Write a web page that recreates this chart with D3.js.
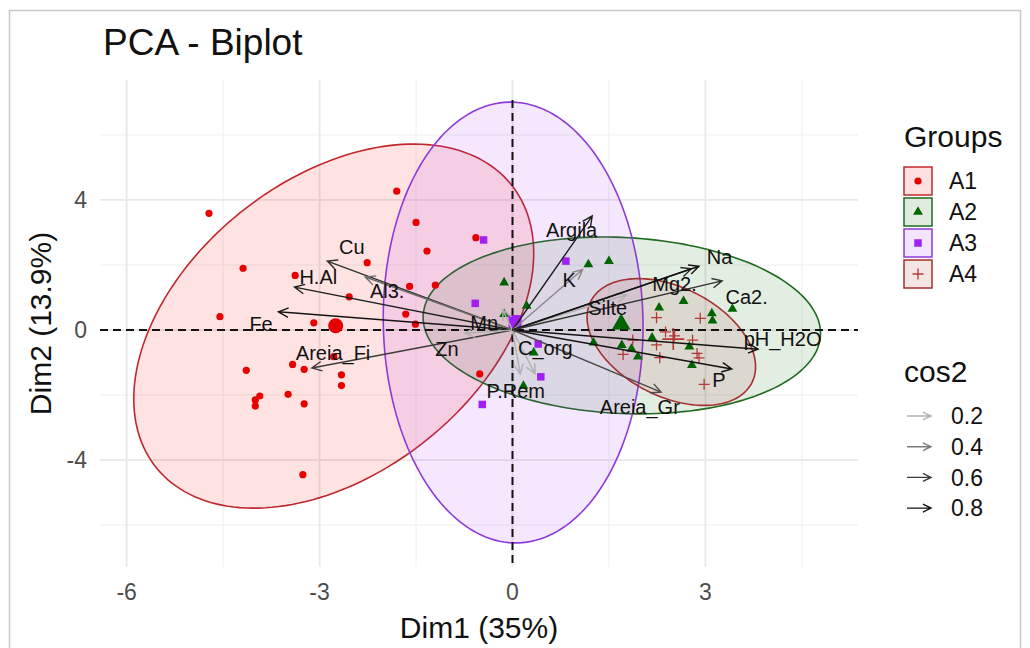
<!DOCTYPE html>
<html>
<head>
<meta charset="utf-8">
<script src="https://cdn.jsdelivr.net/npm/d3@7"></script>
<style>
  body { margin: 0; background: #fff; }
  svg { font-family: "Liberation Sans", Arial, sans-serif; }
</style>
</head>
<body>
<script>
// groups and colours
const groups = ['A1', 'A2', 'A3', 'A4']
const groupFill = ['#ff0000', '#006400', '#a020f0', '#a52a2a']
const groupPoint = ['#e60000', '#006400', '#a020f0', '#b23a34']
const groupStroke = ['#c0282d', '#1e6b1e', '#8e3ad8', '#a3312f']

// individuals (Dim1, Dim2)
const a1Points = [
  [-4.72, 3.59], [-4.19, 1.90], [-3.38, 1.68], [-2.26, 2.07], [-2.54, 1.02],
  [-4.55, 0.41], [-3.09, 0.22], [-1.80, 4.27], [-1.50, 3.31], [-1.33, 2.43],
  [-0.57, 2.84], [-1.60, 1.34], [-1.20, 1.38], [-1.66, 0.49], [-1.51, 0.18],
  [-0.51, -1.35], [-4.14, -1.24], [-3.42, -1.06], [-3.24, -1.21], [-2.78, -0.82],
  [-2.66, -1.38], [-2.66, -1.71], [-3.93, -2.03], [-4.00, -2.15], [-4.00, -2.34],
  [-3.49, -1.98], [-3.24, -2.27], [-3.26, -4.45]
]
const a2Points = [
  [-0.13, 1.46], [0.22, 0.74], [-0.13, 0.49], [0.33, -0.70], [0.17, -1.72],
  [1.18, 2.02], [1.50, 2.12], [2.28, 0.69], [2.66, 0.89], [3.10, 0.51],
  [3.11, 0.29], [3.42, 0.65], [2.17, -0.24], [1.70, -0.47], [1.85, -0.58],
  [1.95, -0.82], [2.75, -0.51], [2.79, -1.08], [1.26, -0.39]
]
const a3Points = [
  [-0.45, 2.77], [-0.58, 0.82], [0.83, 2.12], [0.40, -0.43], [0.44, -1.44], [-0.47, -2.29]
]
const a4Points = [
  [2.24, 0.38], [2.92, 0.36], [2.38, -0.06], [2.52, -0.18], [2.80, -0.31], [2.24, -0.46],
  [1.87, -0.31], [1.72, -0.75], [2.29, -0.85], [2.87, -0.72], [2.90, -0.86], [2.98, -1.67]
]
const groupPoints = [a1Points, a2Points, a3Points, a4Points]
const groupMeans = [[-2.75, 0.13], [1.69, 0.18], [0.04, 0.26], [2.50, -0.28]]

// ellipses: centre, spread on each axis, correlation
const ellCenter = [[-2.78, 0.12], [1.70, 0.14], [0.01, 0.23], [2.47, -0.37]]
const ellSpread = [[3.11, 5.60], [3.09, 2.72], [2.02, 6.78], [1.31, 1.95]]
const ellCorr = [0.40, -0.09, -0.02, -0.39]

// variables
const varNames = ['Cu', 'H.Al', 'Al3.', 'Fe', 'Areia_Fi', 'Zn', 'Mn', 'C_org', 'P.Rem',
  'Argila', 'K', 'Silte', 'Mg2.', 'Na', 'Ca2.', 'pH_H2O', 'P', 'Areia_Gr']
const varDim1 = [-2.88, -3.39, -2.29, -3.64, -3.12, -0.74, -0.15, 0.35, 0.12,
  1.24, 1.09, 1.77, 2.78, 2.90, 3.26, 3.82, 3.41, 2.31]
const varDim2 = [2.12, 1.32, 1.63, 0.56, -1.17, -0.10, 0.62, -1.35, -1.35,
  3.51, 1.86, 1.08, 1.88, 1.96, 1.51, -0.59, -1.20, -1.91]
const varCos2 = [0.65, 0.75, 0.45, 0.8, 0.6, 0.12, 0.1, 0.18, 0.12,
  0.75, 0.35, 0.2, 0.7, 0.85, 0.65, 0.85, 0.8, 0.55]
const labDim1 = [-2.50, -3.02, -1.95, -3.91, -2.79, -1.02, -0.44, 0.51, 0.05,
  0.92, 0.88, 1.48, 2.52, 3.22, 3.64, 4.20, 3.21, 1.98]
const labDim2 = [2.55, 1.63, 1.20, 0.18, -0.71, -0.58, 0.22, -0.55, -1.88,
  3.09, 1.55, 0.68, 1.42, 2.26, 1.02, -0.27, -1.55, -2.37]

const xTicks = [-6, -3, 0, 3]
const xMinor = [-4.5, -1.5, 1.5, 4.5]
const yTicks = [-4, 0, 4]
const yMinor = [-6, -2, 2, 6]
const cos2Legend = [0.2, 0.4, 0.6, 0.8]

const W = 1030, H = 648
const panel = { left: 100, right: 858, top: 80, bottom: 567 }

const svg = d3.select('body').append('svg')
  .attr('width', W).attr('height', H)

svg.append('rect').attr('x', 9.5).attr('y', 10.5).attr('width', 1011).attr('height', 640)
  .attr('fill', '#fff').attr('stroke', '#c8c8c8').attr('stroke-width', 1.5)

let x = d3.scaleLinear().domain([-6.415, 5.373]).range([panel.left, panel.right])
let y = d3.scaleLinear().domain([-7.29, 7.69]).range([panel.bottom, panel.top])

let cosColor = d3.scaleLinear().domain([0.2, 0.4, 0.6, 0.8])
  .range(['#b0b0b0', '#7a7a7a', '#3c3c3c', '#141414']).clamp(true)

// grid
let grid = svg.append('g')
grid.selectAll('.vminor').data(xMinor).enter().append('line')
  .attr('x1', d => x(d)).attr('x2', d => x(d)).attr('y1', panel.top).attr('y2', panel.bottom)
  .attr('stroke', '#eeeeee').attr('stroke-width', 1)
grid.selectAll('.hminor').data(yMinor).enter().append('line')
  .attr('y1', d => y(d)).attr('y2', d => y(d)).attr('x1', panel.left).attr('x2', panel.right)
  .attr('stroke', '#eeeeee').attr('stroke-width', 1)
grid.selectAll('.vmajor').data(xTicks).enter().append('line')
  .attr('x1', d => x(d)).attr('x2', d => x(d)).attr('y1', panel.top).attr('y2', panel.bottom)
  .attr('stroke', '#e8e8e8').attr('stroke-width', 1.8)
grid.selectAll('.hmajor').data(yTicks).enter().append('line')
  .attr('y1', d => y(d)).attr('y2', d => y(d)).attr('x1', panel.left).attr('x2', panel.right)
  .attr('stroke', '#e8e8e8').attr('stroke-width', 1.8)

// ellipses
let ellLine = d3.line().curve(d3.curveLinearClosed)
let ellipsePath = (i) => {
  let [cx, cy] = ellCenter[i], [sx, sy] = ellSpread[i], r = ellCorr[i]
  let pts = d3.range(0, 360, 2).map(a => {
    let t = a * Math.PI / 180
    return [x(cx + sx * Math.cos(t)), y(cy + sy * (r * Math.cos(t) + Math.sqrt(1 - r * r) * Math.sin(t)))]
  })
  return ellLine(pts)
}
svg.append('g').selectAll('path').data(groups).enter().append('path')
  .attr('d', (d, i) => ellipsePath(i))
  .attr('fill', (d, i) => groupFill[i]).attr('fill-opacity', 0.11)
  .attr('stroke', (d, i) => groupStroke[i]).attr('stroke-width', 1.6)

// zero lines
svg.append('line').attr('x1', x(0)).attr('x2', x(0)).attr('y1', panel.top + 20).attr('y2', panel.bottom)
  .attr('stroke', '#111').attr('stroke-width', 2).attr('stroke-dasharray', '8,5')
svg.append('line').attr('y1', y(0)).attr('y2', y(0)).attr('x1', panel.left).attr('x2', panel.right)
  .attr('stroke', '#111').attr('stroke-width', 2).attr('stroke-dasharray', '8,5')

// point symbols
let drawSymbol = (g, gi, px, py, big) => {
  let col = groupPoint[gi]
  if (gi === 0) {
    g.append('circle').attr('cx', px).attr('cy', py).attr('r', big ? 7.5 : 3.6).attr('fill', col)
  } else if (gi === 1) {
    g.append('path').attr('transform', `translate(${px},${py})`)
      .attr('d', d3.symbol(d3.symbolTriangle, big ? 150 : 42)()).attr('fill', col)
  } else if (gi === 2) {
    let s = big ? 13 : 7.5
    g.append('rect').attr('x', px - s / 2).attr('y', py - s / 2).attr('width', s).attr('height', s).attr('fill', col)
  } else {
    let s = big ? 11 : 5.5
    g.append('path').attr('d', `M${px - s},${py}H${px + s}M${px},${py - s}V${py + s}`)
      .attr('stroke', col).attr('stroke-width', big ? 1.6 : 1.3).attr('fill', 'none')
  }
}

let pts = svg.append('g')
groupPoints.forEach((list, gi) => {
  list.forEach(p => drawSymbol(pts, gi, x(p[0]), y(p[1]), false))
})
groupMeans.forEach((p, gi) => drawSymbol(pts, gi, x(p[0]), y(p[1]), true))

// arrows
let arrowPath = (x0, y0, x1, y1, len) => {
  let a = Math.atan2(y1 - y0, x1 - x0), h = 0.45
  let ax = x1 - len * Math.cos(a - h), ay = y1 - len * Math.sin(a - h)
  let bx = x1 - len * Math.cos(a + h), by = y1 - len * Math.sin(a + h)
  return `M${x0},${y0}L${x1},${y1}M${ax},${ay}L${x1},${y1}L${bx},${by}`
}
let arrows = svg.append('g')
varNames.forEach((n, i) => {
  arrows.append('path')
    .attr('d', arrowPath(x(0), y(0), x(varDim1[i]), y(varDim2[i]), 11))
    .attr('fill', 'none').attr('stroke', cosColor(varCos2[i])).attr('stroke-width', 1.4)
})
svg.append('g').selectAll('text').data(varNames).enter().append('text')
  .attr('x', (d, i) => x(labDim1[i])).attr('y', (d, i) => y(labDim2[i]))
  .attr('dy', '0.35em').attr('text-anchor', 'middle')
  .attr('font-size', 20).attr('fill', '#111').text(d => d)

// axes text
svg.append('g').selectAll('text').data(xTicks).enter().append('text')
  .attr('x', d => x(d)).attr('y', 600).attr('text-anchor', 'middle')
  .attr('font-size', 23).attr('fill', '#4d4d4d').text(d => d)
svg.append('g').selectAll('text').data(yTicks).enter().append('text')
  .attr('x', 87).attr('y', d => y(d)).attr('dy', '0.36em').attr('text-anchor', 'end')
  .attr('font-size', 23).attr('fill', '#4d4d4d').text(d => d)

svg.append('text').attr('x', (panel.left + panel.right) / 2).attr('y', 638)
  .attr('text-anchor', 'middle').attr('font-size', 30).attr('fill', '#111').text('Dim1 (35%)')
svg.append('text').attr('transform', `translate(51,${(panel.top + panel.bottom) / 2}) rotate(-90)`)
  .attr('text-anchor', 'middle').attr('font-size', 30).attr('fill', '#111').text('Dim2 (13.9%)')
svg.append('text').attr('x', 103).attr('y', 55).attr('font-size', 37).attr('fill', '#111').text('PCA - Biplot')

// legend: groups
let lg = svg.append('g')
lg.append('text').attr('x', 904).attr('y', 147).attr('font-size', 30).attr('fill', '#111').text('Groups')
groups.forEach((g, i) => {
  let top = 167 + i * 31
  lg.append('rect').attr('x', 904).attr('y', top).attr('width', 28).attr('height', 28)
    .attr('fill', groupFill[i]).attr('fill-opacity', 0.12)
    .attr('stroke', groupStroke[i]).attr('stroke-width', 1.5)
  drawSymbol(lg, i, 918, top + 14, i === 3 ? false : false)
  lg.append('text').attr('x', 949).attr('y', top + 14).attr('dy', '0.36em')
    .attr('font-size', 23).attr('fill', '#111').text(g)
})

// legend: cos2
lg.append('text').attr('x', 904).attr('y', 382).attr('font-size', 30).attr('fill', '#111').text('cos2')
cos2Legend.forEach((v, i) => {
  let cy = 416 + i * 30.7
  lg.append('path').attr('d', arrowPath(907, cy, 931, cy, 9))
    .attr('fill', 'none').attr('stroke', cosColor(v)).attr('stroke-width', 1.4)
  lg.append('text').attr('x', 951).attr('y', cy).attr('dy', '0.36em')
    .attr('font-size', 23).attr('fill', '#111').text(v)
})
</script>
</body>
</html>
